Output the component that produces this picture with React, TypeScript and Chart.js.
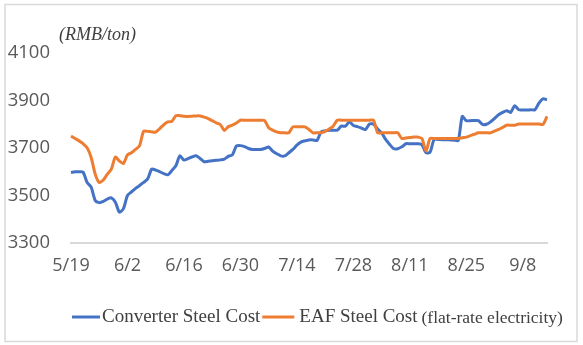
import React, { useEffect, useRef } from "react";
import { Chart, registerables } from "chart.js";

Chart.register(...registerables);

// ---- data ----
const MONTH_LENGTHS: Record<number, number> = { 5: 31, 6: 30, 7: 31, 8: 31, 9: 30 };
function buildDates(startMonth: number, startDay: number, count: number): string[] {
  const out: string[] = [];
  let m = startMonth;
  let d = startDay;
  for (let i = 0; i < count; i++) {
    out.push(`${m}/${d}`);
    d += 1;
    if (d > MONTH_LENGTHS[m]) {
      d = 1;
      m += 1;
    }
  }
  return out;
}
const CATEGORIES = buildDates(5, 19, 119);
const TICK_LABELS = ["5/19", "6/2", "6/16", "6/30", "7/14", "7/28", "8/11", "8/25", "9/8"];
const Y_MIN = 3300;
const Y_MAX = 4100;
const Y_STEP = 200;
const UNIT_LABEL = "(RMB/ton)";
const SERIES_NAMES = ["Converter Steel Cost", "EAF Steel Cost"];
const SERIES_NOTE = "(flat-rate electricity)";

const CONVERTER_COST = [
  3597, 3600, 3600, 3598, 3555, 3535, 3479, 3470, 3475, 3485,
  3490, 3472, 3430, 3445, 3500, 3515, 3530, 3542, 3555, 3570,
  3611, 3607, 3600, 3592, 3587, 3605, 3625, 3667, 3649, 3655,
  3662, 3667, 3656, 3642, 3644, 3646, 3648, 3650, 3653, 3665,
  3671, 3708, 3710, 3706, 3698, 3694, 3694, 3694, 3698, 3704,
  3687, 3676, 3667, 3667, 3680, 3694, 3712, 3725, 3730, 3734,
  3734, 3732, 3768, 3772, 3775, 3775, 3775, 3792, 3792, 3810,
  3795, 3790, 3784, 3778, 3801, 3800, 3780, 3764, 3736, 3715,
  3697, 3697, 3705, 3718, 3718, 3718, 3718, 3714, 3680, 3682,
  3736, 3736, 3735, 3735, 3734, 3733, 3732, 3833, 3815, 3815,
  3816, 3815, 3799, 3800, 3810, 3825, 3840, 3850, 3857, 3850,
  3878, 3861, 3860, 3860, 3861, 3861, 3889, 3907, 3903,
];

const EAF_COST = [
  3750, 3740, 3730, 3718, 3701, 3660, 3590, 3555, 3565, 3590,
  3611, 3662, 3645, 3635, 3671, 3680, 3694, 3710, 3771, 3770,
  3768, 3767, 3782, 3798, 3810, 3812, 3836, 3836, 3834, 3833,
  3834, 3835, 3835, 3830, 3824, 3815, 3806, 3799, 3774, 3790,
  3796, 3805, 3817, 3817, 3817, 3817, 3817, 3817, 3815, 3785,
  3775, 3768, 3764, 3764, 3764, 3789, 3789, 3789, 3789, 3778,
  3764, 3764, 3764, 3770, 3780, 3792, 3817, 3817, 3817, 3817,
  3817, 3817, 3817, 3817, 3817, 3817, 3764, 3764, 3764, 3764,
  3764, 3764, 3740, 3742, 3744, 3746, 3746, 3740, 3687, 3740,
  3740, 3740, 3740, 3740, 3740, 3740, 3740, 3743, 3746, 3752,
  3758, 3764, 3764, 3764, 3764, 3771, 3778, 3787, 3796, 3796,
  3796, 3801, 3801, 3801, 3801, 3801, 3801, 3799, 3833,
];

// ---- styles ----
const BLUE = "#4472C4";
const ORANGE = "#ED7D31";
const TICK_COLOR = "#595959";
const TEXT_COLOR = "#404040";
const SANS = "'Open Sans', 'Liberation Sans', sans-serif";
const SERIF = "'Liberation Serif', 'DejaVu Serif', serif";

const decorPlugin = {
  id: "decor",
  afterDraw(chart: any) {
    const ctx: CanvasRenderingContext2D = chart.ctx;
    ctx.save();
    // outer frame
    ctx.strokeStyle = "#d9d9d9";
    ctx.lineWidth = 1.5;
    ctx.strokeRect(5, 4.5, 572, 337);

    // unit label
    ctx.fillStyle = TEXT_COLOR;
    ctx.textBaseline = "middle";
    ctx.textAlign = "left";
    ctx.font = `italic 18px ${SERIF}`;
    ctx.fillText(UNIT_LABEL, 59, 35);

    // legend
    const y = 317;
    let x = 72;
    ctx.lineWidth = 3;
    ctx.strokeStyle = BLUE;
    ctx.beginPath();
    ctx.moveTo(x, y);
    ctx.lineTo(x + 28, y);
    ctx.stroke();
    x += 30;
    ctx.font = `19px ${SERIF}`;
    ctx.fillText(SERIES_NAMES[0], x, y);
    x += ctx.measureText(SERIES_NAMES[0]).width + 2;
    ctx.strokeStyle = ORANGE;
    ctx.beginPath();
    ctx.moveTo(x, y);
    ctx.lineTo(x + 32, y);
    ctx.stroke();
    x += 37;
    ctx.fillText(SERIES_NAMES[1], x, y);
    x += ctx.measureText(SERIES_NAMES[1]).width + 4;
    ctx.font = `17.5px ${SERIF}`;
    ctx.fillText(SERIES_NOTE, x, y + 1);
    ctx.restore();
  },
};

export default function App() {
  const canvasRef = useRef<HTMLCanvasElement | null>(null);

  useEffect(() => {
    document.body.style.margin = "0";
    const canvas = canvasRef.current;
    if (!canvas) return;
    const chart = new Chart(canvas, {
      type: "line",
      data: {
        labels: CATEGORIES,
        datasets: [
          {
            label: SERIES_NAMES[0],
            data: CONVERTER_COST,
            borderColor: BLUE,
            backgroundColor: BLUE,
            borderWidth: 3,
            pointRadius: 0,
            tension: 0.25,
            order: 1,
          },
          {
            label: SERIES_NAMES[1] + " " + SERIES_NOTE,
            data: EAF_COST,
            borderColor: ORANGE,
            backgroundColor: ORANGE,
            borderWidth: 3,
            pointRadius: 0,
            tension: 0.25,
            order: 0,
          },
        ],
      },
      options: {
        responsive: false,
        animation: false,
        layout: { padding: { top: 53, right: 36, bottom: 0, left: 0 } },
        plugins: {
          legend: { display: false },
          tooltip: { enabled: false },
          title: { display: false },
        },
        scales: {
          x: {
            type: "category",
            offset: false,
            grid: { display: false, drawTicks: false },
            border: { display: true, color: "#d9d9d9", width: 2 },
            ticks: {
              autoSkip: false,
              maxRotation: 0,
              minRotation: 0,
              padding: 12,
              color: TICK_COLOR,
              font: { family: SANS, size: 18 },
              callback: function (this: any, _v: any, idx: number) {
                const lbl = CATEGORIES[idx];
                return TICK_LABELS.includes(lbl) ? lbl : null;
              },
            },
            afterFit: (scale: any) => {
              scale.height = 102;
            },
          },
          y: {
            min: Y_MIN,
            max: Y_MAX,
            grid: { display: false, drawTicks: false },
            border: { display: false },
            ticks: {
              stepSize: Y_STEP,
              padding: 21,
              color: TICK_COLOR,
              font: { family: SANS, size: 18.5 },
              callback: (v: any) => String(v),
            },
            afterFit: (scale: any) => {
              scale.width = 71;
            },
          },
        },
      },
      plugins: [decorPlugin],
    });
    return () => chart.destroy();
  }, []);

  return (
    <div style={{ position: "absolute", left: 0, top: 0, width: 583, height: 345, background: "#fff" }}>
      <canvas ref={canvasRef} width={583} height={345} />
    </div>
  );
}
